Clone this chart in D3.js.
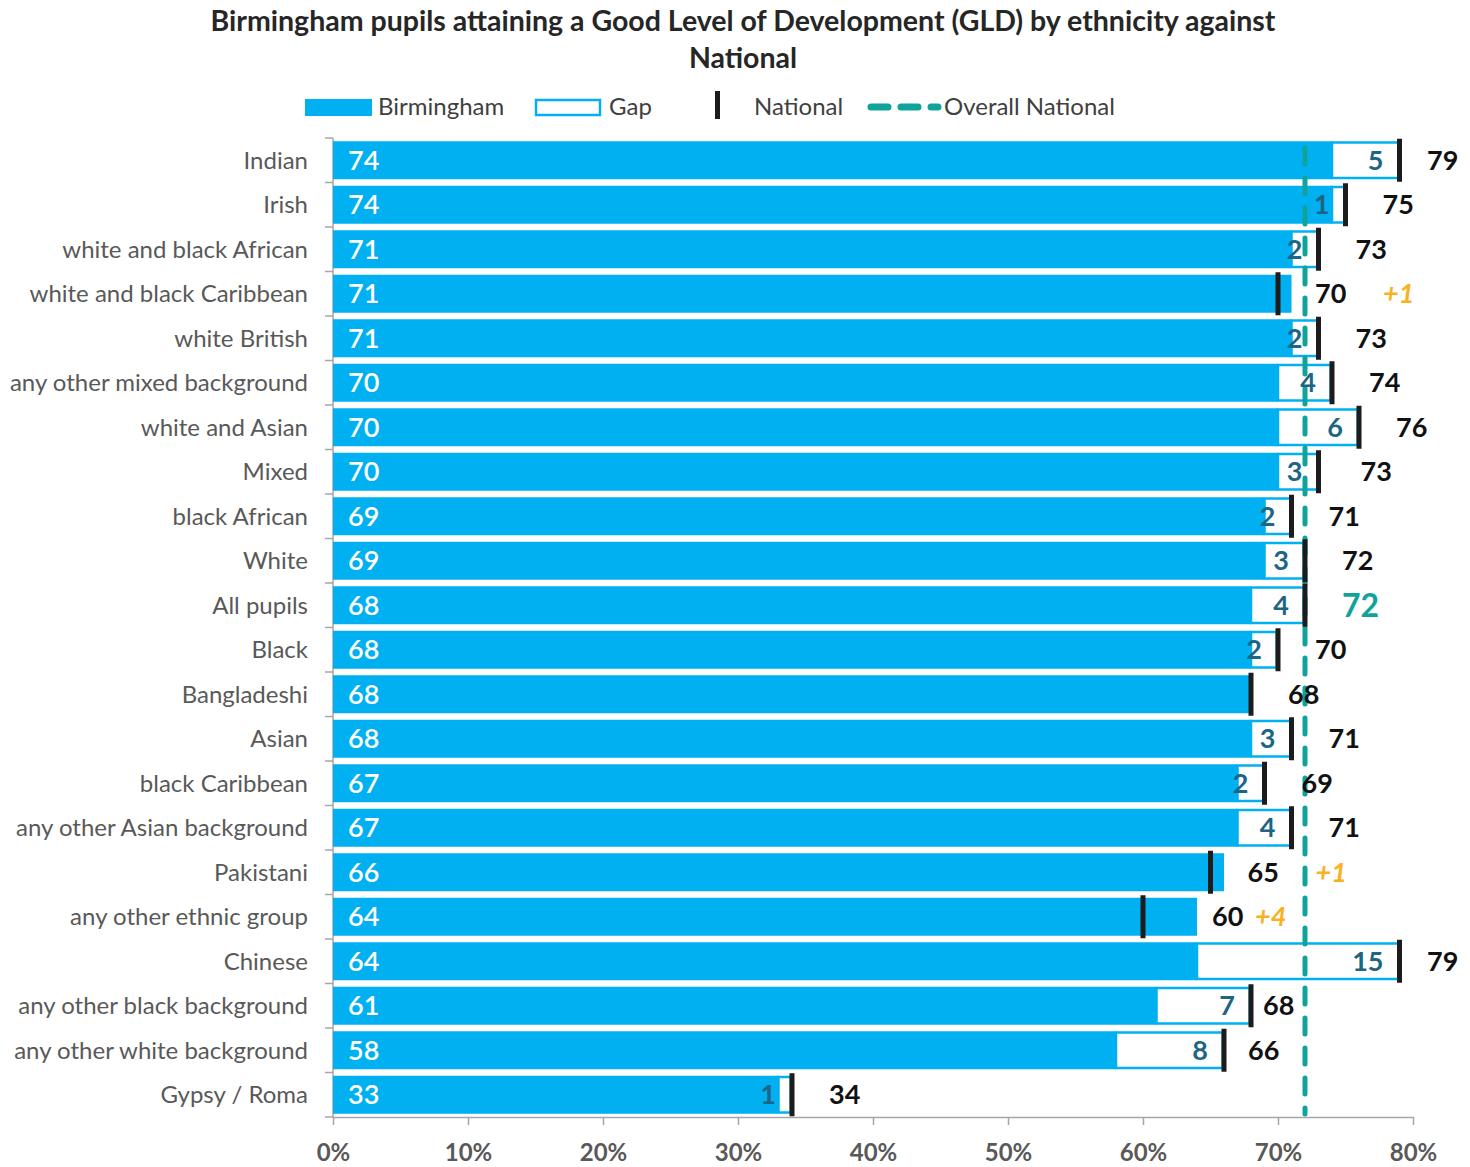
<!DOCTYPE html>
<html>
<head>
<meta charset="utf-8">
<script src="https://cdn.jsdelivr.net/npm/d3@7"></script>
<style>
  body { margin: 0; background: #fff; }
  svg { display: block; }
  text { font-family: Lato, "Open Sans", "Liberation Sans", sans-serif; }
</style>
</head>
<body>
<svg id="chart" width="1470" height="1167"></svg>
<script>
// GLD attainment by ethnicity: Birmingham vs National (%)
const categories = [
  "Indian", "Irish", "white and black African", "white and black Caribbean",
  "white British", "any other mixed background", "white and Asian", "Mixed",
  "black African", "White", "All pupils", "Black", "Bangladeshi", "Asian",
  "black Caribbean", "any other Asian background", "Pakistani",
  "any other ethnic group", "Chinese", "any other black background",
  "any other white background", "Gypsy / Roma"
];
const birmingham = [74, 74, 71, 71, 71, 70, 70, 70, 69, 69, 68, 68, 68, 68, 67, 67, 66, 64, 64, 61, 58, 33];
const national   = [79, 75, 73, 70, 73, 74, 76, 73, 71, 72, 72, 70, 68, 71, 69, 71, 65, 60, 79, 68, 66, 34];
const overallNational = 72;
const overallCategory = "All pupils";
const xTicks = [0, 10, 20, 30, 40, 50, 60, 70, 80];
const titleLines = [
  "Birmingham pupils attaining a Good Level of Development (GLD) by ethnicity against",
  "National"
];
const legendLabels = ["Birmingham", "Gap", "National", "Overall National"];

// National value labels that were dragged clear of nearby marks (px)
const nationalLabelNudge = {
  "Mixed": 5,
  "any other black background": -25,
  "any other white background": -13
};
const aheadLabelNudge = { "any other ethnic group": -25 };

const BLUE = "#00B0F0";
const TEAL = "#0FA39B";
const MARK = "#1c1c1c";
const GAPTXT = "#1D6584";
const ORANGE = "#F9B122";
const GREY = "#595959";

const rows = categories.map((c, i) => ({ cat: c, b: birmingham[i], n: national[i] }));

const svg = d3.select("#chart");
const x = d3.scaleLinear().domain([0, 80]).range([333, 1413]);
const y = d3.scaleBand().domain(categories).range([138, 1117])
  .paddingInner(0.146).paddingOuter(0.073);
const bw = y.bandwidth();
const step = y.step();
const plotTop = 138, plotBottom = 1117;

// Title
svg.append("g").selectAll("text").data(titleLines).join("text")
  .attr("x", 743).attr("y", (d, i) => 31 + i * 37)
  .attr("text-anchor", "middle")
  .attr("font-size", 28.5).attr("font-weight", 700).attr("fill", "#262626")
  .text(d => d);

// Legend
const lg = svg.append("g").attr("font-size", 24).attr("fill", "#404040");
lg.append("rect").attr("x", 305).attr("y", 99).attr("width", 67).attr("height", 17).attr("fill", BLUE);
lg.append("text").attr("x", 378).attr("y", 107).attr("dy", "0.35em").text(legendLabels[0]);
lg.append("rect").attr("x", 536).attr("y", 100).attr("width", 64).attr("height", 15)
  .attr("fill", "#fff").attr("stroke", BLUE).attr("stroke-width", 2.5);
lg.append("text").attr("x", 609).attr("y", 107).attr("dy", "0.35em").text(legendLabels[1]);
lg.append("rect").attr("x", 715).attr("y", 91).attr("width", 5).attr("height", 28).attr("fill", MARK);
lg.append("text").attr("x", 754).attr("y", 107).attr("dy", "0.35em").text(legendLabels[2]);
lg.append("line").attr("x1", 871).attr("x2", 938).attr("y1", 107).attr("y2", 107)
  .attr("stroke", TEAL).attr("stroke-width", 7).attr("stroke-linecap", "round")
  .attr("stroke-dasharray", "17 13");
lg.append("text").attr("x", 944).attr("y", 107).attr("dy", "0.35em").text(legendLabels[3]);

// Category axis with boundary ticks
const ax = svg.append("g");
ax.append("line").attr("x1", x(0)).attr("x2", x(0)).attr("y1", plotTop).attr("y2", plotBottom)
  .attr("stroke", "#A6A6A6").attr("stroke-width", 1.5);
const bounds = categories.map(c => y(c) - (step - bw) / 2).concat([plotBottom]);
ax.selectAll("line.tk").data(bounds).join("line").attr("class", "tk")
  .attr("x1", x(0) - 8).attr("x2", x(0)).attr("y1", d => d).attr("y2", d => d)
  .attr("stroke", "#A6A6A6").attr("stroke-width", 1.5);
ax.selectAll("text").data(categories).join("text")
  .attr("x", x(0) - 25).attr("y", d => y(d) + bw / 2).attr("dy", "0.35em")
  .attr("text-anchor", "end").attr("font-size", 24).attr("fill", GREY)
  .text(d => d);

// Value axis
const xAxis = svg.append("g").attr("transform", `translate(0,${plotBottom})`)
  .call(d3.axisBottom(x).tickValues(xTicks).tickSize(8).tickSizeOuter(0).tickFormat(d => d + "%"));
xAxis.select(".domain").attr("stroke", "#A6A6A6").attr("stroke-width", 1.5);
xAxis.selectAll(".tick line").attr("stroke", "#A6A6A6").attr("stroke-width", 1.5);
xAxis.selectAll(".tick text").attr("y", 36).attr("dy", "0.35em")
  .attr("font-size", 24).attr("font-weight", 700).attr("fill", GREY)
  .attr("font-family", 'Lato, "Open Sans", sans-serif');

// Birmingham bars
svg.append("g").selectAll("rect").data(rows).join("rect")
  .attr("x", x(0)).attr("y", d => y(d.cat))
  .attr("width", d => x(d.b) - x(0)).attr("height", bw)
  .attr("fill", BLUE);

// Gap to national
const sw = 2.5;
svg.append("g").selectAll("rect").data(rows.filter(d => d.n > d.b)).join("rect")
  .attr("x", d => x(d.b)).attr("y", d => y(d.cat) + sw / 2)
  .attr("width", d => x(d.n) - x(d.b) - sw / 2).attr("height", bw - sw)
  .attr("fill", "#fff").attr("stroke", BLUE).attr("stroke-width", sw);

// Overall national reference line
svg.append("line")
  .attr("x1", x(overallNational)).attr("x2", x(overallNational))
  .attr("y1", plotTop + 10).attr("y2", plotBottom - 3)
  .attr("stroke", TEAL).attr("stroke-width", 5).attr("stroke-linecap", "round")
  .attr("stroke-dasharray", "16 14");

// National markers
svg.append("g").selectAll("rect").data(rows).join("rect")
  .attr("x", d => x(d.n) - 2.5).attr("y", d => y(d.cat) - 2.5)
  .attr("width", 5).attr("height", bw + 5).attr("fill", MARK);

// Birmingham value labels
svg.append("g").selectAll("text").data(rows).join("text")
  .attr("x", x(0) + 15).attr("y", d => y(d.cat) + bw / 2).attr("dy", "0.36em")
  .attr("font-size", 27).attr("font-weight", 600).attr("fill", "#fff")
  .text(d => d.b);

// Gap labels
svg.append("g").selectAll("text").data(rows.filter(d => d.n > d.b)).join("text")
  .attr("x", d => x(d.n) - 16).attr("y", d => y(d.cat) + bw / 2).attr("dy", "0.36em")
  .attr("text-anchor", "end")
  .attr("font-size", 27).attr("font-weight", 700).attr("fill", GAPTXT)
  .text(d => d.n - d.b);

// National value labels
const natLabelX = d => {
  let px = x(d.n) + 37;
  if (d.b > d.n) px = Math.max(px, x(d.b) + 15);
  px = Math.min(px, 1427);
  return px + (nationalLabelNudge[d.cat] || 0);
};
svg.append("g").selectAll("text").data(rows).join("text")
  .attr("x", natLabelX).attr("y", d => y(d.cat) + bw / 2).attr("dy", "0.36em")
  .attr("font-size", d => d.cat === overallCategory ? 32 : 27)
  .attr("font-weight", 700)
  .attr("fill", d => d.cat === overallCategory ? TEAL : "#111")
  .text(d => d.n);

// Where Birmingham is ahead of national
svg.append("g").selectAll("text").data(rows.filter(d => d.b > d.n)).join("text")
  .attr("x", d => natLabelX(d) + 68 + (aheadLabelNudge[d.cat] || 0))
  .attr("y", d => y(d.cat) + bw / 2).attr("dy", "0.36em")
  .attr("font-size", 27).attr("font-weight", 700).attr("font-style", "italic")
  .attr("fill", ORANGE)
  .text(d => "+" + (d.b - d.n));
</script>
</body>
</html>
